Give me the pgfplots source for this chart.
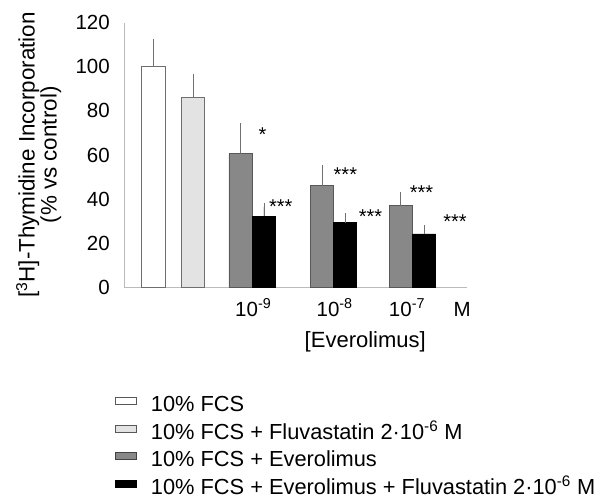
\documentclass[border=0pt]{standalone}
\usepackage{fontspec}
\setmainfont{Liberation Sans}
\usepackage{pgfplots}
\pgfplotsset{compat=1.18}
\definecolor{barlight}{HTML}{E3E3E3}
\definecolor{barmid}{HTML}{888888}
\definecolor{edge}{HTML}{6E6E6E}
\definecolor{errcol}{HTML}{707070}
\definecolor{axisline}{HTML}{BBBBBB}
\newcommand\bigf{\fontsize{22bp}{20bp}\selectfont}
\begin{document}
\begin{tikzpicture}
\path[use as bounding box] (0,0) rectangle (602bp,498bp);
\begin{axis}[
  at={(124bp,210.7bp)}, anchor=south west,
  scale only axis, width=342.7bp, height=264.7bp,
  xmin=0, xmax=14.69, ymin=0, ymax=120,
  clip=false,
  axis x line=bottom, axis y line=left,
  axis line style={-, draw=axisline, line width=0.8bp},
  major tick length=0pt,
  ytick={0,20,...,120},
  xtick={5.54,9.03,12.13,14.5},
  xticklabels={10\textsuperscript{-9},10\textsuperscript{-8},10\textsuperscript{-7},M},
  /pgf/number format/assume math mode=true,
  tick label style={font=\fontsize{20.5bp}{24bp}\selectfont, inner sep=0pt},
  yticklabel style={anchor=east, xshift=-14bp},
  xticklabel style={anchor=base, yshift=-28.7bp},
  xlabel={[Everolimus]},
  xlabel style={at={(axis description cs:0.704,0)}, anchor=base, yshift=-60.4bp, inner sep=0pt, font=\bigf},
  ylabel={[\textsuperscript{3}H]-Thymidine Incorporation\\(\% vs control)},
  ylabel style={at={(axis description cs:-0.1827,0.5)}, anchor=south, align=center, inner sep=0pt,
    font=\fontsize{22.4bp}{20bp}\selectfont},
  legend cell align=left,
  legend style={at={(axis description cs:-0.0263,-0.4042)}, anchor=north west,
    draw=none, fill=none, inner sep=0pt, row sep=7.6bp, column sep=14bp,
    font=\fontsize{21.8bp}{25bp}\selectfont,
    nodes={inner sep=0pt, text height=17bp, text depth=3bp}},
  error bars/y dir=plus,
  error bars/y explicit,
  error bars/error bar style={draw=errcol, line width=0.8bp},
  error bars/error mark options={draw=errcol, line width=0.8bp, mark size=3.9bp},
]
% 10% FCS
\addplot[ybar, bar width=1, bar shift=0pt, fill=white, draw=edge, line width=0.8bp,
  legend image code/.code={\draw[fill=white, draw=edge!80!black, line width=0.8bp] (0bp,0bp) rectangle (21bp,7bp);}]
  coordinates {(1.26,100) +- (0,11)};
\addlegendentry{10\% FCS}
% 10% FCS + Fluvastatin
\addplot[ybar, bar width=1, bar shift=0pt, fill=barlight, draw=edge, line width=0.8bp,
  legend image code/.code={\draw[fill=barlight, draw=edge!80!black, line width=0.8bp] (0bp,0bp) rectangle (21bp,7bp);}]
  coordinates {(2.96,86) +- (0,9)};
\addlegendentry{10\% FCS + Fluvastatin 2·10\textsuperscript{-6} M}
% 10% FCS + Everolimus
\addplot[ybar, bar width=1, bar shift=0pt, fill=barmid, draw=edge!80!black, line width=0.8bp,
  legend image code/.code={\draw[fill=barmid, draw=edge!60!black, line width=0.8bp] (0bp,0bp) rectangle (21bp,7bp);}]
  coordinates {
    (5.00,60.5) +- (0,12.2)
    (8.49,46)   +- (0,7.5)
    (11.86,37)  +- (0,4.5)
  };
\addlegendentry{10\% FCS + Everolimus}
% 10% FCS + Everolimus + Fluvastatin
\addplot[ybar, bar width=1, bar shift=0pt, fill=black, draw=black, line width=0.8bp,
  legend image code/.code={\draw[fill=black, draw=black, line width=0.8bp] (0bp,0bp) rectangle (21bp,7bp);}]
  coordinates {
    (6.00,32.3)  +- (0,4)
    (9.48,29.2)  +- (0,2.8)
    (12.86,24.2) +- (0,2.2)
  };
\addlegendentry{10\% FCS + Everolimus + Fluvastatin 2·10\textsuperscript{-6} M}
% significance marks
\begin{scope}[every node/.style={anchor=base, inner sep=0pt, font=\fontsize{20bp}{24bp}\selectfont}]
\node at (axis cs:5.94,66.2) {*};
\node at (axis cs:6.72,33.5) {***};
\node at (axis cs:9.49,48.0) {***};
\node at (axis cs:10.57,29.0) {***};
\node at (axis cs:12.75,39.9) {***};
\node at (axis cs:14.19,26.7) {***};
\end{scope}
\end{axis}
\end{tikzpicture}
\end{document}
